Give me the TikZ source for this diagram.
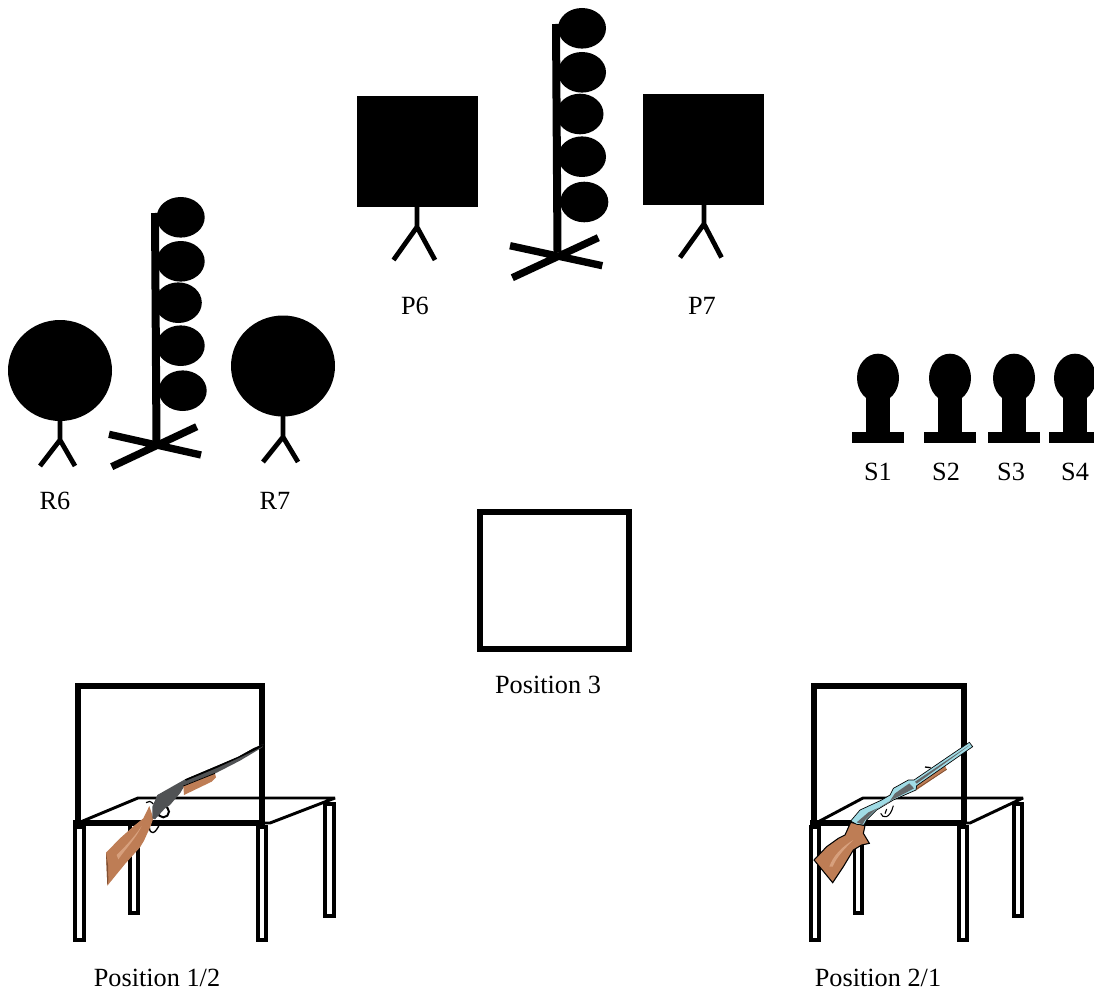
\documentclass[tikz,border=0pt]{standalone}
\usepackage{fontspec}
\setmainfont{Liberation Serif}
\definecolor{wood}{RGB}{190,125,85}
\definecolor{woodl}{RGB}{215,160,125}
\definecolor{woodd}{RGB}{130,80,50}
\definecolor{gun}{RGB}{80,82,84}
\definecolor{steel}{RGB}{160,220,230}
\definecolor{steeld}{RGB}{100,104,106}
\tikzset{
  lab/.style={inner sep=0pt,font=\fontsize{19.7pt}{22pt}\selectfont,anchor=center},
  stick/.style={line width=3.6pt,line join=miter},
  pole/.style={line width=6pt},
  crossbar/.style={line width=5.5pt},
  frame/.style={line width=3.9pt,draw=black,fill=none},
  thin/.style={line width=2.2pt,line join=bevel},
  leg/.style={line width=2.8pt,draw=black,fill=white},
}
\begin{document}
\begin{tikzpicture}[x=0.75pt,y=-0.75pt]
\useasboundingbox (0,0) rectangle (1094,991);
% paper targets
\fill (357,96) rectangle (478,207);
\fill (643,94) rectangle (764,205);
\draw[stick] (417,207) -- (417,227) (393.500,260) -- (417,227) -- (435,260);
\draw[stick] (704,205) -- (704,224) (680,257.500) -- (704,224) -- (721.500,257.500);
% upper plate rack
\draw[pole] (556,24) -- (557.500,252);
\draw[crossbar] (510,245.700) -- (602.300,265.700) (512.300,277.700) -- (598.300,237.700);
\foreach \cx/\cy/\rx in {582/28.300/24,582/72.300/24,580/114/23.500,582/156.700/24,584.300/202/24}
  \fill (\cx,\cy) ellipse [x radius=\rx,y radius=20.300];
% lower plate rack
\draw[pole] (155,213) -- (156.500,443);
\draw[crossbar] (109,434.300) -- (201,455) (111.700,466.700) -- (196.700,426.700);
\foreach \cx/\cy/\rx in {180.700/217.300/24,180.700/261.300/24,178.300/302.700/23.500,180.700/345.700/24,182.700/390.700/24}
  \fill (\cx,\cy) ellipse [x radius=\rx,y radius=20.300];
% round targets
\fill (60,370.500) ellipse [x radius=52,y radius=50.500];
\fill (283,366) ellipse [x radius=52,y radius=50.500];
\draw[stick] (60,420) -- (60,440) (40,466) -- (60,440) -- (75,466);
\draw[stick] (283,416) -- (283,437) (263,462) -- (283,437) -- (298,462);
% steel
\foreach \cx in {878,950,1014,1075} {
  \fill (\cx,378) ellipse [x radius=21,y radius=24.300];
  \fill (\cx-12,390) rectangle (\cx+12,434);
  \fill (\cx-26,432) rectangle (\cx+26,442.500);
}
% position boxes
\draw[frame] (480,512) rectangle (629,649);
\draw[frame] (78,823) -- (78,686) -- (262,686) -- (262,823);
\draw[frame] (814,823) -- (814,686) -- (964,686) -- (964,823);
% table 1
\draw[leg] (130,823) rectangle (138,913);
\draw[leg] (325,804) rectangle (334,916);
\draw[thin] (78,823) -- (138,798) -- (335,798) -- (270,823) -- (262,823);
\draw[line width=3.9pt] (73,823) -- (265,823);
\draw[leg] (75,827) rectangle (84,940);
\draw[leg] (258,827) rectangle (266,940);
% table 2
\draw[leg] (854.500,823) rectangle (862,913);
\draw[leg] (1014,804) rectangle (1022,916);
\draw[thin] (816,823) -- (863,798) -- (1023,798) -- (970,823) -- (964,823);
\draw[line width=3.9pt] (810,823) -- (966,823);
\draw[leg] (811,827) rectangle (819,940);
\draw[leg] (959,827) rectangle (967,940);
% rifle 1
\begin{scope}[shift={(100,740)},x=0.25pt,y=-0.25pt]
  \draw[line width=0.9pt] (138,188) .. controls (145,182) and (152,183) .. (160,192);
  \draw[line width=1.5pt] (190,215) circle [radius=17];
  \draw[line width=1pt] (148,262) .. controls (150,285) and (165,285) .. (180,250);
  \fill[wood] (18,338) -- (60,295) -- (105,255) -- (130,235) -- (148,198) -- (160,235) -- (152,258) -- (132,302) -- (120,322) -- (75,372) -- (22,437) -- cycle;
  \fill[woodl] (50,345) .. controls (75,320) and (100,295) .. (125,258) .. controls (108,295) and (80,322) .. (55,358) -- cycle;
  \fill[woodd] (18,338) -- (24,375) -- (25,420) -- (22,437) -- cycle;
  \fill[gun] (157,200) -- (172,165) -- (255,118) -- (345,80) -- (415,50) -- (460,25) -- (490,12) -- (487,22) -- (420,62) -- (350,98) -- (255,135) -- (240,160) -- (210,195) -- (195,205) -- (165,238) -- (157,235) -- cycle;
  \fill[black] (255,118) -- (345,80) -- (415,50) -- (460,25) -- (490,12) -- (487,20) -- (420,52) -- (350,84) -- (258,122) -- cycle;
  \fill[wood] (250,138) -- (345,100) -- (348,112) -- (335,125) -- (252,165) -- cycle;
  \draw[line width=0.6pt,black] (250,138) -- (345,100);
\end{scope}
% rifle 2
\begin{scope}[shift={(810,735)},x=0.25pt,y=-0.25pt]
  \draw[line width=0.8pt] (212,235) .. controls (218,252) and (240,252) .. (250,212);
  \draw[line width=0.8pt] (230,222) -- (225,236);
  \draw[line width=1pt] (345,96) -- (362,98);
  \fill[wood] (315,150) -- (405,92) -- (410,103) -- (320,165) -- cycle;
  \draw[line width=0.6pt,woodd] (315,165) -- (410,103);
  \draw[line width=0.8pt,fill=wood] (122,262) -- (165,272) -- (160,295) -- (178,325) -- (155,330) -- (130,345) -- (100,395) -- (68,443) -- (12,375) -- (50,335) -- (85,310) -- (105,300) -- cycle;
  \fill[woodl] (58,395) .. controls (68,365) and (95,335) .. (130,315) .. controls (105,340) and (80,365) .. (68,395) -- cycle;
  \draw[line width=0.5pt,fill=steel] (122,258) -- (150,225) -- (215,195) -- (240,180) -- (250,160) -- (295,135) -- (312,135) -- (478,22) -- (488,35) -- (320,152) -- (318,165) -- (295,175) -- (250,195) -- (200,225) -- (170,255) -- (162,270) -- (140,268) -- cycle;
  \fill[steeld] (140,262) -- (175,232) -- (235,205) -- (255,175) -- (298,145) -- (312,160) -- (290,172) -- (245,195) -- (195,225) -- (165,255) -- (158,268) -- cycle;
  \fill[steeld] (315,140) -- (470,36) -- (480,30) -- (320,146) -- cycle;
\end{scope}
% labels
\node[lab] (p6) at (415,306) {P6};
\node[lab] (p7) at (702,306) {P7};
\node[lab] (r6) at (55,501) {R6};
\node[lab] (r7) at (275,501) {R7};
\node[lab] (s1) at (878,472) {S1};
\node[lab] (s2) at (946,472) {S2};
\node[lab] (s3) at (1011,472) {S3};
\node[lab] (s4) at (1075,472) {S4};
\node[lab] (pos3) at (548,685) {Position 3};
\node[lab] (pos12) at (157,978) {Position 1/2};
\node[lab] (pos21) at (878,978) {Position 2/1};
\end{tikzpicture}
\end{document}
